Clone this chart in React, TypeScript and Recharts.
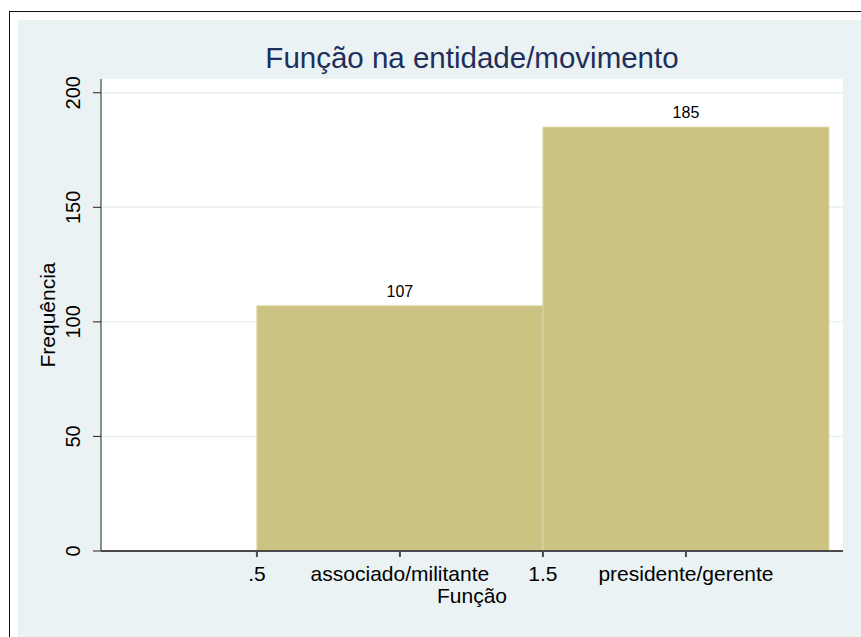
import { Bar, BarChart, CartesianGrid, LabelList, XAxis, YAxis } from 'recharts'

// histogram bins (discrete variable, width 1)
const binCenters = [1, 2]
const binLabels = ['associado/militante', 'presidente/gerente']
const frequencies = [107, 185]

const xTicks = [0.5, 1, 1.5, 2]
const xTickLabels = ['.5', binLabels[0], '1.5', binLabels[1]]
const yTicks = [0, 50, 100, 150, 200]

const FONT = '"Liberation Sans", Arial, Helvetica, sans-serif'
const BG = '#eaf2f3'
const BAR_FILL = '#ccc281'
const BAR_EDGE = '#dcd7a4'
const AXIS = '#4a4a4a'

const data = binCenters.map((center, i) => ({
  center,
  label: binLabels[i],
  freq: frequencies[i],
}))

function formatXTick(value: number): string {
  const idx = xTicks.indexOf(value)
  return idx >= 0 ? xTickLabels[idx] : String(value)
}

function YTick(props: any) {
  const { x, y, payload } = props
  return (
    <text
      x={x}
      y={y}
      transform={`rotate(-90 ${x} ${y})`}
      textAnchor="middle"
      fontSize={20}
      fontFamily={FONT}
      fill="#000"
    >
      {payload.value}
    </text>
  )
}

export default function App() {
  return (
    <div style={{ position: 'absolute', left: 0, top: 0, width: 861, height: 637, background: '#fff', overflow: 'hidden' }}>
      <div
        style={{
          position: 'absolute',
          left: 9,
          top: 11,
          width: 900,
          height: 700,
          borderLeft: '1.5px solid #111',
          borderTop: '1.5px solid #111',
        }}
      />
      <div style={{ position: 'absolute', left: 18, top: 20, width: 843, height: 617, background: BG }} />
      <div style={{ position: 'absolute', left: 0, top: 0 }}>
        <BarChart
          width={861}
          height={637}
          data={data}
          margin={{ top: 79, right: 18, bottom: 26, left: 30 }}
          barCategoryGap={0}
          barGap={0}
        >
          <CartesianGrid vertical={false} stroke={BG} strokeWidth={1.5} fill="#fff" horizontalValues={yTicks} />
          <XAxis
            dataKey="center"
            type="number"
            domain={[-0.045, 2.549]}
            ticks={xTicks}
            interval={0}
            allowDataOverflow
            tickFormatter={formatXTick}
            height={60}
            tickSize={6}
            tickMargin={9}
            stroke={AXIS}
            strokeWidth={2}
            tick={{ fontSize: 21, fontFamily: FONT, fill: '#000' }}
            label={{ value: 'Função', position: 'insideBottom', offset: 8, fontSize: 21, fontFamily: FONT, fill: '#000' }}
          />
          <YAxis
            type="number"
            domain={[0, 206]}
            ticks={yTicks}
            interval={0}
            allowDataOverflow
            width={71}
            tickSize={8}
            tickMargin={13}
            stroke="#222"
            tick={<YTick />}
            label={{
              value: 'Frequência',
              angle: -90,
              position: 'insideLeft',
              offset: 18,
              fontSize: 21,
              fontFamily: FONT,
              fill: '#000',
              style: { textAnchor: 'middle' },
            }}
          />
          <Bar dataKey="freq" fill={BAR_FILL} stroke={BAR_EDGE} strokeWidth={1} isAnimationActive={false}>
            <LabelList dataKey="freq" position="top" offset={9} fontSize={16} fontFamily={FONT} fill="#000" />
          </Bar>
        </BarChart>
      </div>
      <svg width={861} height={637} style={{ position: 'absolute', left: 0, top: 0, pointerEvents: 'none' }}>
        <text x={472} y={68} textAnchor="middle" fontSize={29.5} fontFamily={FONT} fill="#1e2f5b">
          Função na entidade/movimento
        </text>
      </svg>
    </div>
  )
}
